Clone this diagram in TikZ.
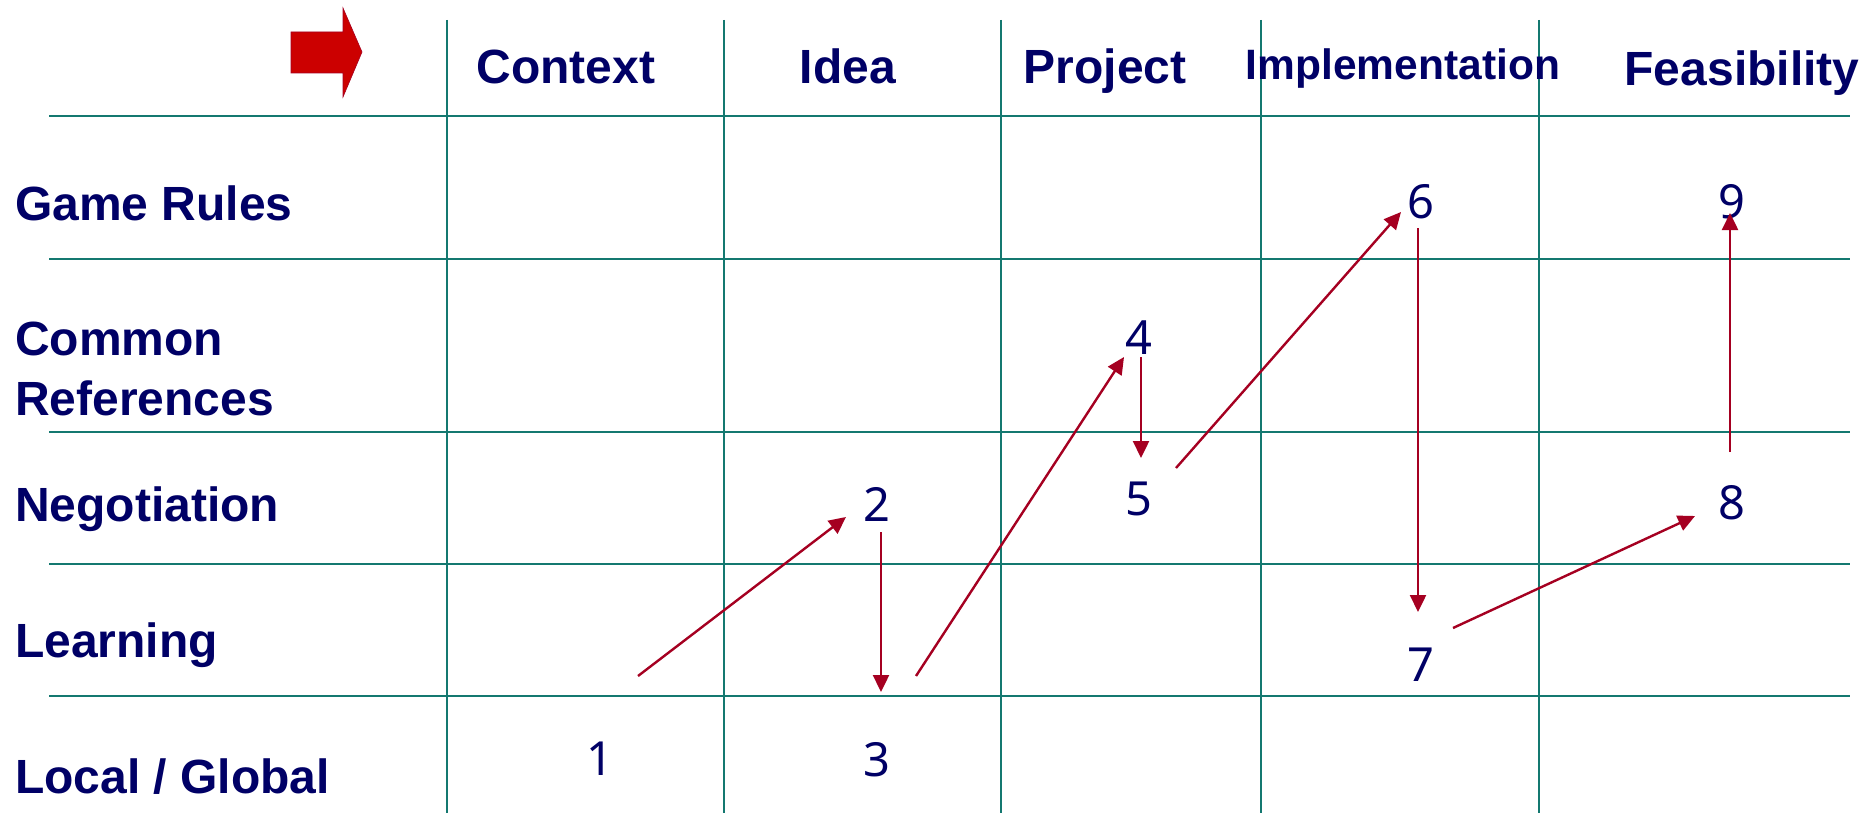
\documentclass[tikz,border=0pt]{standalone}
\usepackage{fontspec}
\setmainfont{Liberation Sans}
\newfontfamily\numfont{Noto Sans}
\usetikzlibrary{arrows.meta}
\definecolor{gridteal}{RGB}{20,120,112}
\definecolor{navy}{RGB}{0,0,102}
\definecolor{arrred}{RGB}{165,0,33}
\definecolor{blockred}{RGB}{204,0,0}
\tikzset{
  gridline/.style={draw=gridteal, line width=2pt},
  head/.style={anchor=base, inner sep=0pt, text=navy, font=\bfseries\fontsize{48}{57}\selectfont},
  rowlab/.style={anchor=base west, inner sep=0pt, text=navy, font=\bfseries\fontsize{48}{57}\selectfont},
  num/.style={anchor=center, inner sep=0pt, text=navy, font=\numfont\fontsize{47}{56}\selectfont},
  flow/.style={draw=arrred, line width=2.4pt, -{Triangle[length=17pt,width=16pt]}}
}
\begin{document}
\begin{tikzpicture}[x=1pt,y=-1pt]
\useasboundingbox (0,0) rectangle (1873,813);
% grid
\foreach \gx in {447,724,1001,1261,1539} \draw[gridline] (\gx,20) -- (\gx,813);
\foreach \gy in {116,259,432,564,696} \draw[gridline] (49,\gy) -- (1850,\gy);
% block arrow
\fill[blockred, draw=arrred, line width=0.6pt] (291,32) -- (343,32) -- (343,8) -- (362,52) -- (343,97) -- (343,73) -- (291,73) -- cycle;
% headers
\node[head] (hctx) at (566,84) {Context};
\node[head] (hidea) at (848,84) {Idea};
\node[head] (hproj) at (1105,84) {Project};
\node[head, font=\bfseries\fontsize{42.5}{50}\selectfont] (himpl) at (1403,80) {Implementation};
\node[head] (hfeas) at (1742,86) {Feasibility};
% row labels
\node[rowlab] (rgame) at (15,220) {Game Rules};
\node[rowlab] (rcomm) at (15,355) {Common};
\node[rowlab] (rref) at (15,415) {References};
\node[rowlab] (rneg) at (15,521) {Negotiation};
\node[rowlab] (rlearn) at (15,657) {Learning};
\node[rowlab] (rloc) at (15,793) {Local / Global};
% numbers
\node[num] (n1) at (600,759) {1};
\node[num] (n2) at (877,504) {2};
\node[num] (n3) at (877,760) {3};
\node[num] (n4) at (1139,338) {4};
\node[num] (n5) at (1139,499) {5};
\node[num] (n6) at (1421,202) {6};
\node[num] (n7) at (1421,665) {7};
\node[num] (n8) at (1732,503) {8};
\node[num] (n9) at (1732,202) {9};
% arrow end points
\coordinate (a1s) at (638,676); \coordinate (a1e) at (846,517);
\coordinate (a2s) at (881,532); \coordinate (a2e) at (881,692);
\coordinate (a3s) at (916,676); \coordinate (a3e) at (1124,357);
\coordinate (a4s) at (1141,357); \coordinate (a4e) at (1141,458);
\coordinate (a5s) at (1176,468); \coordinate (a5e) at (1401,212);
\coordinate (a6s) at (1418,228); \coordinate (a6e) at (1418,612);
\coordinate (a7s) at (1453,628); \coordinate (a7e) at (1695,516);
\coordinate (a8s) at (1730,452); \coordinate (a8e) at (1730,213);
\draw[flow] (a1s) -- (a1e);
\draw[flow] (a2s) -- (a2e);
\draw[flow] (a3s) -- (a3e);
\draw[flow] (a4s) -- (a4e);
\draw[flow] (a5s) -- (a5e);
\draw[flow] (a6s) -- (a6e);
\draw[flow] (a7s) -- (a7e);
\draw[flow] (a8s) -- (a8e);
\end{tikzpicture}
\end{document}
